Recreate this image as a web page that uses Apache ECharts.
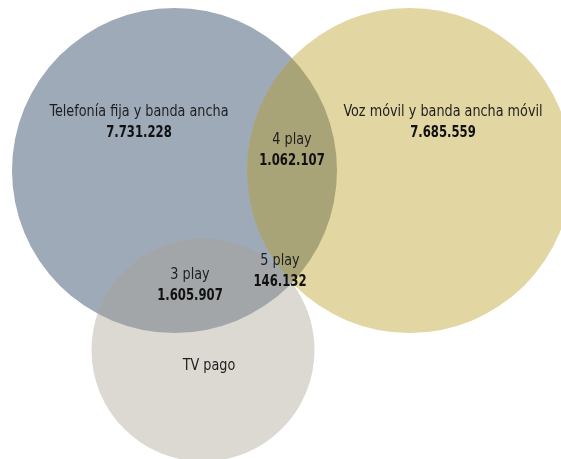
<!DOCTYPE html>
<html><head><meta charset="utf-8">
<script src="https://cdn.jsdelivr.net/npm/echarts@6/dist/echarts.min.js"></script>
<style>html,body{margin:0;padding:0;background:#fff}#c{width:561px;height:459px}</style>
</head><body><div id="c"></div>
<script>
// ---- data ----
const setNames = ['Telefonía fija y banda ancha', 'Voz móvil y banda ancha móvil', 'TV pago'];
const setValues = [7731228, 7685559, null];
const overlapNames = ['4 play', '3 play', '5 play'];
const overlapValues = [1062107, 1605907, 146132];

// ---- layout (diagram units) ----
const circleGeom = [[174.5, 170.5, 162.5], [409.5, 170.5, 162.5], [203, 350, 111.5]];
const circleFill = ['rgba(24,53,86,0.42)', 'rgba(186,157,34,0.42)', 'rgba(172,162,148,0.42)'];
const setLabelPos = [[139, 122], [443, 122], [209, 366]];
const overlapLabelPos = [[292, 150], [190, 285], [280, 271]];

function fmt(n) { return String(n).replace(/\B(?=(\d{3})+(?!\d))/g, '.'); }

const FONT = "'Liberation Sans Narrow','DejaVu Sans Condensed',sans-serif";
const labelItems = [];
setNames.forEach((n, i) => labelItems.push([setLabelPos[i][0], setLabelPos[i][1], n, setValues[i] == null ? '' : fmt(setValues[i])]));
overlapNames.forEach((n, i) => labelItems.push([overlapLabelPos[i][0], overlapLabelPos[i][1], n, fmt(overlapValues[i])]));

const chart = echarts.init(document.getElementById('c'), null, { renderer: 'canvas' });
chart.setOption({
  animation: false,
  grid: { left: 0, right: 0, top: 0, bottom: 0 },
  xAxis: { type: 'value', min: 0, max: 561, show: false },
  yAxis: { type: 'value', min: 0, max: 459, inverse: true, show: false },
  series: [
    {
      type: 'custom',
      data: circleGeom.map((g, i) => [g[0], g[1], g[2], i]),
      renderItem: function (params, api) {
        const c = api.coord([api.value(0), api.value(1)]);
        const r = api.size([api.value(2), 0])[0];
        return { type: 'circle', shape: { cx: c[0], cy: c[1], r: r }, style: { fill: circleFill[api.value(3)], stroke: null } };
      },
      silent: true
    },
    {
      type: 'custom',
      data: labelItems.map((d, i) => [d[0], d[1], i]),
      renderItem: function (params, api) {
        const c = api.coord([api.value(0), api.value(1)]);
        const it = labelItems[api.value(2)];
        const children = [];
        const hasVal = it[3] !== '';
        children.push({ type: 'text', x: c[0], y: hasVal ? c[1] - 10.5 : c[1], scaleX: 0.89, style: { text: it[2], x: 0, y: 0, align: 'center', verticalAlign: 'middle', font: "16px " + FONT, fill: '#1e1e1e' } });
        if (hasVal) children.push({ type: 'text', x: c[0], y: c[1] + 10.5, scaleX: 0.81, style: { text: it[3], x: 0, y: 0, align: 'center', verticalAlign: 'middle', font: "bold 16px " + FONT, fill: '#111' } });
        return { type: 'group', children: children };
      },
      silent: true,
      z: 5
    }
  ]
});
</script></body></html>
